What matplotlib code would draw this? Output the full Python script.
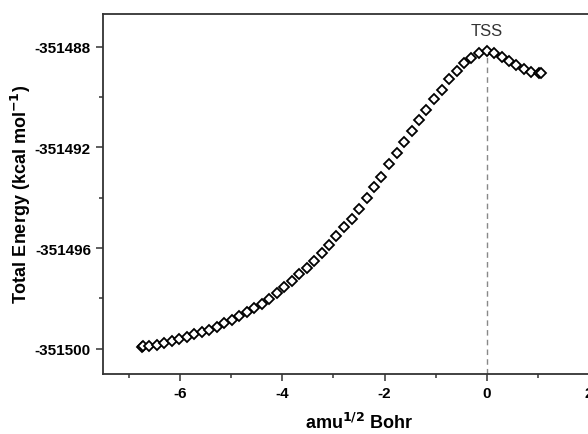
import numpy as np
import matplotlib.pyplot as plt
from matplotlib.ticker import MultipleLocator, FormatStrFormatter

plt.rcParams['font.family'] = ['Liberation Sans', 'DejaVu Sans']

# Coordenada IRC (amu^1/2 Bohr)
irc_x = [-6.75, -6.72, -6.60, -6.46, -6.31, -6.16, -6.02, -5.87, -5.72, -5.58,
         -5.43, -5.28, -5.14, -4.99, -4.84, -4.70, -4.55, -4.40, -4.26, -4.11,
         -3.96, -3.82, -3.67, -3.52, -3.38, -3.23, -3.08, -2.94, -2.79, -2.64,
         -2.50, -2.35, -2.20, -2.06, -1.91, -1.76, -1.62, -1.47, -1.32, -1.18,
         -1.03, -0.88, -0.74, -0.59, -0.44, -0.30, -0.15, 0.00, 0.15, 0.29,
         0.44, 0.58, 0.73, 0.87, 1.02, 1.06]

# Energía total (kcal/mol)
energia = [-351499.91, -351499.90, -351499.87, -351499.83, -351499.76, -351499.69,
           -351499.60, -351499.52, -351499.43, -351499.35, -351499.25, -351499.12,
           -351498.99, -351498.84, -351498.68, -351498.55, -351498.39, -351498.22,
           -351498.02, -351497.80, -351497.56, -351497.32, -351497.05, -351496.78,
           -351496.51, -351496.21, -351495.88, -351495.54, -351495.18, -351494.83,
           -351494.45, -351494.02, -351493.59, -351493.16, -351492.68, -351492.22,
           -351491.80, -351491.36, -351490.91, -351490.51, -351490.10, -351489.72,
           -351489.29, -351488.96, -351488.66, -351488.44, -351488.24, -351488.17,
           -351488.27, -351488.42, -351488.59, -351488.73, -351488.90, -351489.01,
           -351489.06, -351489.05]

TS_X = 0.0
TS_E = -351488.17

fig = plt.figure(figsize=(5.88, 4.35), dpi=100)
ax = fig.add_axes([0.176, 0.138, 0.869, 0.828])

ax.plot(irc_x, energia, linestyle='none', marker='D', markersize=5.5,
        markerfacecolor='white', markeredgecolor='black', markeredgewidth=1.3, zorder=3)

ax.set_xlim(-7.5, 2.5)
ax.set_ylim(-351501.0, -351486.7)

# línea punteada del estado de transición
ax.vlines(TS_X, -351501.0, TS_E - 0.15, colors='#888888', linestyles=(0, (4, 3)), linewidth=1.0, zorder=2)
ax.text(TS_X, -351487.35, 'TSS', ha='center', va='center', fontsize=12, color='#333333')

ax.xaxis.set_major_locator(MultipleLocator(2))
ax.xaxis.set_minor_locator(MultipleLocator(1))
ax.yaxis.set_major_locator(MultipleLocator(4))
ax.yaxis.set_minor_locator(MultipleLocator(2))
ax.yaxis.set_major_formatter(FormatStrFormatter('%d'))
ax.xaxis.set_major_formatter(FormatStrFormatter('%d'))

ax.tick_params(which='major', direction='out', length=5, width=1.1, color='#333333', labelsize=11, pad=4)
ax.tick_params(which='minor', direction='out', length=3, width=1.1, color='#333333')
ax.tick_params(top=False, right=False)
for lbl in ax.get_xticklabels() + ax.get_yticklabels():
    lbl.set_fontweight('bold')

for sp in ax.spines.values():
    sp.set_linewidth(1.3)
    sp.set_color('#333333')

ax.set_xlabel('amu$^{\\mathbf{1/2}}$ Bohr', fontsize=13, fontweight='bold', labelpad=8)
ax.set_ylabel('Total Energy (kcal mol$^{\\mathbf{-1}}$)', fontsize=13, fontweight='bold', labelpad=1)

fig.savefig('out.png', dpi=100)
